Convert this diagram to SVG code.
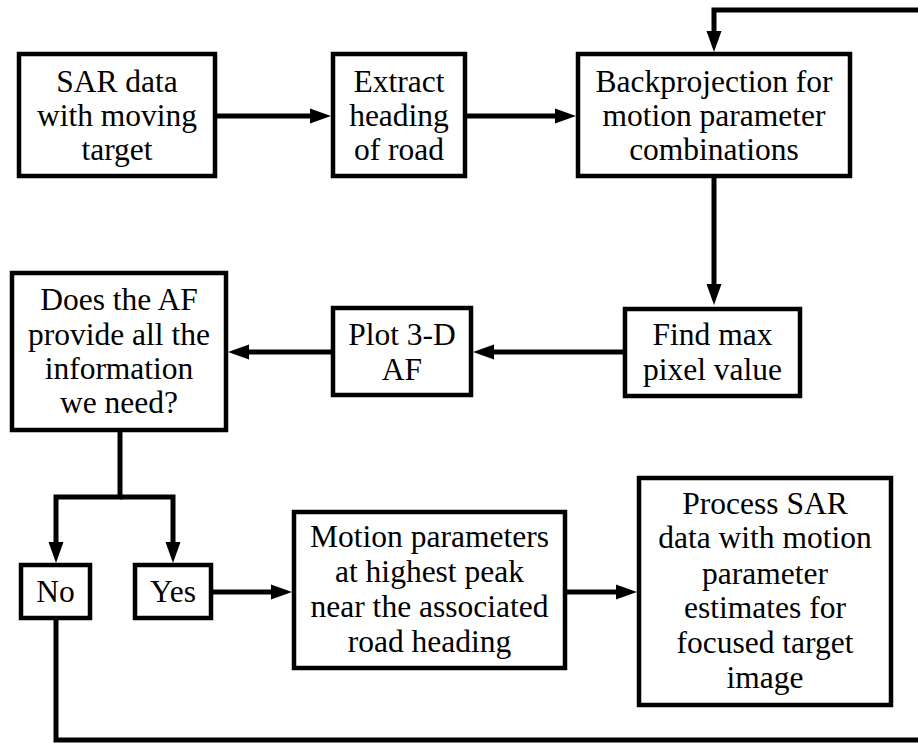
<svg xmlns="http://www.w3.org/2000/svg" width="918" height="743" viewBox="0 0 918 743">
<style>
.box{fill:#fff;stroke:#000;stroke-width:4.5}
.t{font-size:31.5px;text-anchor:middle;fill:#000}
.c{fill:none;stroke:#000;stroke-width:5}
</style>
<defs>
<marker id="ah" markerUnits="userSpaceOnUse" markerWidth="22" markerHeight="16" refX="0" refY="8" orient="auto" overflow="visible">
<path d="M0,0.5 L21,8 L0,15.5 z" fill="#000"/>
</marker>
</defs>
<rect width="918" height="743" fill="#fff"/>
<g id="connectors">
<line class="c" x1="217" y1="116" x2="310" y2="116" marker-end="url(#ah)"/>
<line class="c" x1="467" y1="116" x2="555" y2="116" marker-end="url(#ah)"/>
<polyline class="c" points="918,10 714,10 714,31" marker-end="url(#ah)"/>
<line class="c" x1="714" y1="178" x2="714" y2="284" marker-end="url(#ah)"/>
<line class="c" x1="623" y1="352" x2="494" y2="352" marker-end="url(#ah)"/>
<line class="c" x1="331" y1="352" x2="249" y2="352" marker-end="url(#ah)"/>
<polyline class="c" points="120,432 120,497 56,497 56,542" marker-end="url(#ah)"/>
<polyline class="c" points="120,497 173,497 173,542" marker-end="url(#ah)"/>
<line class="c" x1="213" y1="592" x2="271" y2="592" marker-end="url(#ah)"/>
<line class="c" x1="567" y1="592" x2="616" y2="592" marker-end="url(#ah)"/>
<polyline class="c" points="56,620 56,740 918,740"/>
</g>
<g font-family="Liberation Serif, serif">
<g id="n1">
<rect class="box" x="19" y="54" width="196" height="122"/>
<text class="t" x="117" y="92">SAR data</text>
<text class="t" x="117" y="126">with moving</text>
<text class="t" x="117" y="160">target</text>
</g>
<g id="n2">
<rect class="box" x="333" y="54" width="132" height="122"/>
<text class="t" x="399" y="92">Extract</text>
<text class="t" x="399" y="126">heading</text>
<text class="t" x="399" y="160">of road</text>
</g>
<g id="n3">
<rect class="box" x="578" y="54" width="272" height="122"/>
<text class="t" x="714" y="92">Backprojection for</text>
<text class="t" x="714" y="126">motion parameter</text>
<text class="t" x="714" y="160">combinations</text>
</g>
<g id="n4">
<rect class="box" x="625" y="309" width="175" height="87"/>
<text class="t" x="712.5" y="345">Find max</text>
<text class="t" x="712.5" y="380">pixel value</text>
</g>
<g id="n5">
<rect class="box" x="333" y="308" width="138" height="87"/>
<text class="t" x="402" y="345">Plot 3-D</text>
<text class="t" x="402" y="380">AF</text>
</g>
<g id="n6">
<rect class="box" x="12" y="273" width="214" height="157"/>
<text class="t" x="119" y="310">Does the AF</text>
<text class="t" x="119" y="345">provide all the</text>
<text class="t" x="119" y="379">information</text>
<text class="t" x="119" y="413">we need?</text>
</g>
<g id="n7">
<rect class="box" x="21" y="565" width="69" height="53"/>
<text class="t" x="55.5" y="602">No</text>
</g>
<g id="n8">
<rect class="box" x="135" y="565" width="76" height="53"/>
<text class="t" x="173" y="602">Yes</text>
</g>
<g id="n9">
<rect class="box" x="294" y="512" width="271" height="156"/>
<text class="t" x="429.5" y="547">Motion parameters</text>
<text class="t" x="429.5" y="582">at highest peak</text>
<text class="t" x="429.5" y="617">near the associated</text>
<text class="t" x="429.5" y="652">road heading</text>
</g>
<g id="n10">
<rect class="box" x="639" y="478" width="252" height="227"/>
<text class="t" x="765" y="514">Process SAR</text>
<text class="t" x="765" y="548">data with motion</text>
<text class="t" x="765" y="584">parameter</text>
<text class="t" x="765" y="618">estimates for</text>
<text class="t" x="765" y="653">focused target</text>
<text class="t" x="765" y="688">image</text>
</g>
</g>
</svg>
